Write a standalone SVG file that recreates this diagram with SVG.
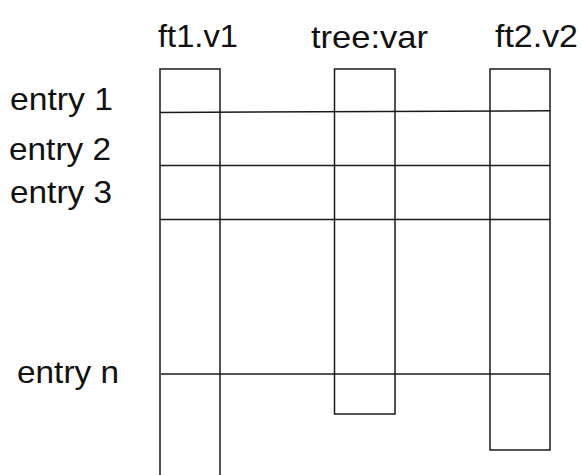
<svg xmlns="http://www.w3.org/2000/svg" width="581" height="475" viewBox="0 0 581 475">
  <style>
    .box { fill: none; stroke: #1a1a1a; stroke-width: 1.5; }
    .row { fill: none; stroke: #1a1a1a; stroke-width: 1.5; }
    .lbl { font-family: "Liberation Sans", Arial, sans-serif; font-size: 30.5px; fill: #111; }
  </style>
  <rect x="0" y="0" width="581" height="475" fill="#fff"/>
  <g id="col-ft1">
    <rect class="box" x="160" y="69" width="60" height="420"/>
    <text class="lbl" x="158" y="47" textLength="80" lengthAdjust="spacingAndGlyphs">ft1.v1</text>
  </g>
  <g id="col-tree">
    <rect class="box" x="334.5" y="69" width="60.5" height="345"/>
    <text class="lbl" x="311" y="48" textLength="117" lengthAdjust="spacingAndGlyphs">tree:var</text>
  </g>
  <g id="col-ft2">
    <rect class="box" x="490" y="69" width="60" height="381"/>
    <text class="lbl" x="495" y="47" textLength="83" lengthAdjust="spacingAndGlyphs">ft2.v2</text>
  </g>
  <g id="row-1"><text class="lbl" x="10" y="110" textLength="103" lengthAdjust="spacingAndGlyphs">entry 1</text></g>
  <g id="row-2"><text class="lbl" x="9" y="160" textLength="102" lengthAdjust="spacingAndGlyphs">entry 2</text></g>
  <g id="row-3"><text class="lbl" x="10" y="203" textLength="102" lengthAdjust="spacingAndGlyphs">entry 3</text></g>
  <g id="row-n"><text class="lbl" x="17" y="383" textLength="102" lengthAdjust="spacingAndGlyphs">entry n</text></g>
  <g id="connectors">
    <line class="row" x1="160" y1="112.5" x2="550" y2="110.8"/>
    <line class="row" x1="160" y1="165.5" x2="550" y2="165.5"/>
    <line class="row" x1="160" y1="219.5" x2="550" y2="219.5"/>
    <line class="row" x1="161" y1="374" x2="550" y2="374"/>
  </g>
</svg>
